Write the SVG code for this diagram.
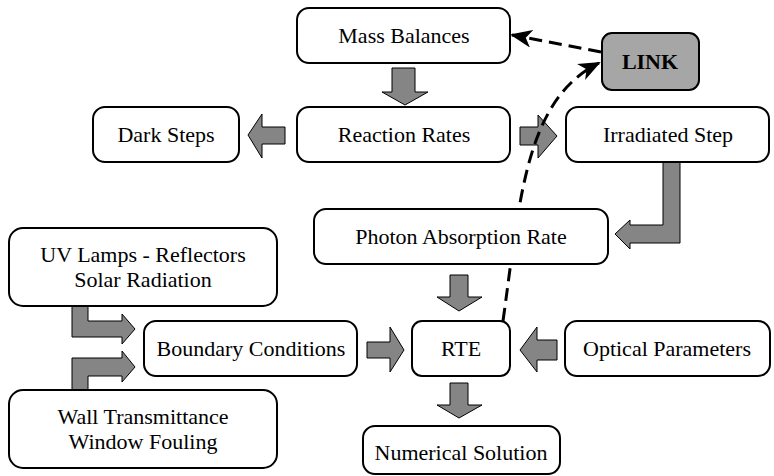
<svg xmlns="http://www.w3.org/2000/svg" width="774" height="476" viewBox="0 0 774 476">
<style>
.box{fill:#fff;stroke:#000;stroke-width:2}
.link{fill:#a6a6a6;stroke:#000;stroke-width:2}
.t{font-family:"Liberation Serif","DejaVu Serif",serif;font-size:22px;fill:#000;text-anchor:middle}
.b{font-weight:bold}
.arr{fill:#858585;stroke:#000;stroke-width:1}
.dash{fill:none;stroke:#000;stroke-width:3;stroke-dasharray:13 7}
</style>
<defs>
<marker id="ah" viewBox="0 0 22 18" refX="20" refY="9" markerWidth="22" markerHeight="18" orient="auto" markerUnits="userSpaceOnUse">
<path d="M0,0 L22,9 L0,18 L6,9 Z" fill="#000"/>
</marker>
</defs>
<rect width="774" height="476" fill="#fff"/>
<g id="connectors">
<polygon class="arr" points="392,68 415,68 415,92 428,92 405,105 382,92 392,92"/>
<polygon class="arr" points="285,127 285,144 262,144 262,158 248,135 262,114 262,127"/>
<polygon class="arr" points="520,127 538,127 538,115 557,136 538,158 538,145 520,145"/>
<polygon class="arr" points="663,162 680,162 680,243 630,243 630,249 615,234 630,220 630,225 663,225"/>
<polygon class="arr" points="450,275 468,275 468,297 482,297 459,311 437,297 450,297"/>
<polygon class="arr" points="450,383 468,383 468,405 482,405 459,418 437,405 450,405"/>
<polygon class="arr" points="367,342 390,342 390,327 404,350 390,372 390,358 367,358"/>
<polygon class="arr" points="557,340 537,340 537,327 520,350 537,372 537,360 557,360"/>
<polygon class="arr" points="72,306 88,306 88,321 122,321 122,314 135,329 122,344 122,337 72,337"/>
<polygon class="arr" points="72,390 72,358 122,358 122,351 135,367 122,382 122,376 88,376 88,390"/>
<path class="dash" d="M503,321 C520,200 525,100 599,63" marker-end="url(#ah)"/>
<path class="dash" d="M601,52 L512,35" marker-end="url(#ah)"/>
</g>
<g id="mass"><rect class="box" x="297" y="8" width="213" height="55" rx="12"/><text class="t" x="404" y="43">Mass Balances</text></g>
<g id="linknode"><rect class="link" x="602" y="33" width="97" height="57" rx="10"/><text class="t b" x="650" y="69">LINK</text></g>
<g id="dark"><rect class="box" x="93" y="107" width="146" height="55" rx="12"/><text class="t" x="166" y="142">Dark Steps</text></g>
<g id="reaction"><rect class="box" x="297" y="107" width="213" height="55" rx="12"/><text class="t" x="404" y="142">Reaction Rates</text></g>
<g id="irradiated"><rect class="box" x="566" y="107" width="203" height="55" rx="12"/><text class="t" x="668" y="142">Irradiated Step</text></g>
<g id="photon"><rect class="box" x="314" y="209" width="294" height="55" rx="12"/><text class="t" x="461" y="244">Photon Absorption Rate</text></g>
<g id="uv"><rect class="box" x="9" y="228" width="268" height="78" rx="14"/><text class="t" x="143" y="262">UV Lamps - Reflectors</text><text class="t" x="143" y="287">Solar Radiation</text></g>
<g id="boundary"><rect class="box" x="144" y="321" width="213" height="55" rx="12"/><text class="t" x="251" y="356">Boundary Conditions</text></g>
<g id="rte"><rect class="box" x="412" y="321" width="98" height="55" rx="10"/><text class="t" x="461" y="356">RTE</text></g>
<g id="optical"><rect class="box" x="565" y="321" width="205" height="55" rx="12"/><text class="t" x="667" y="356">Optical Parameters</text></g>
<g id="wall"><rect class="box" x="9" y="390" width="268" height="78" rx="14"/><text class="t" x="143" y="424">Wall Transmittance</text><text class="t" x="143" y="449">Window Fouling</text></g>
<g id="numerical"><rect class="box" x="363" y="426" width="197" height="48" rx="12"/><text class="t" x="461" y="460">Numerical Solution</text></g>
</svg>
